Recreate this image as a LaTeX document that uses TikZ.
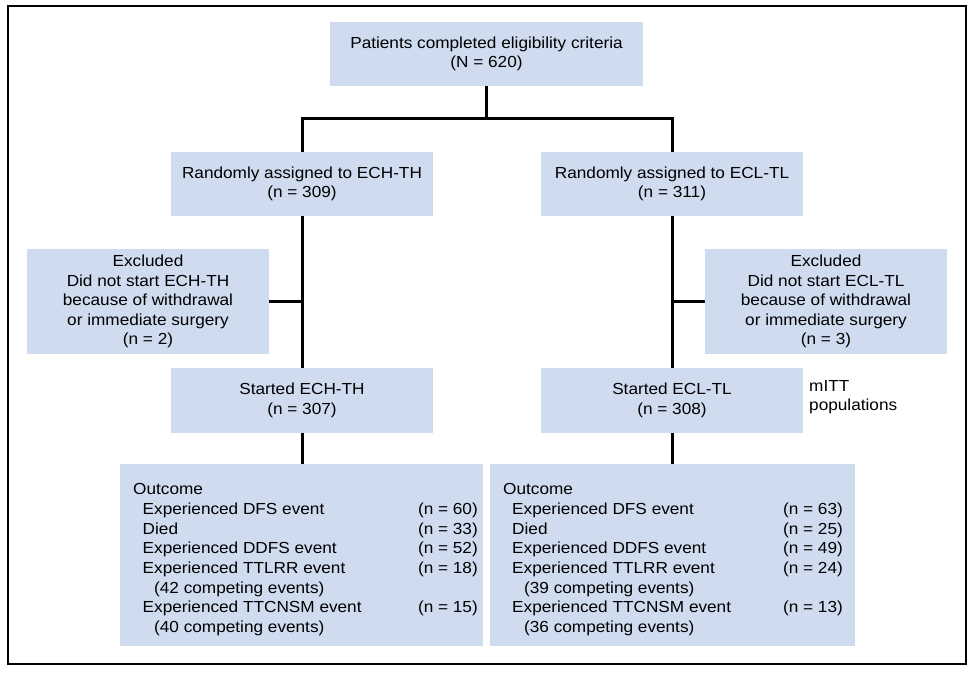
\documentclass[tikz,border=0pt]{standalone}
\usepackage{fontspec}
\setmainfont[FakeStretch=1.075]{Liberation Sans}
\definecolor{boxfill}{RGB}{207,220,239}
\begin{document}
\begin{tikzpicture}[x=1pt,y=-1pt,
  box/.style={fill=boxfill, draw=none, inner sep=0pt, align=center,
    font=\fontsize{16}{19.6}\selectfont},
  conn/.style={line width=3pt, line join=miter},
  txt/.style={inner sep=0pt, font=\fontsize{16}{19.6}\selectfont},
]
\useasboundingbox (0,0) rectangle (976,672);
\draw[line width=1.4pt] (8,6) rectangle (966,664);

\node[box, minimum width=313pt, minimum height=64pt] (top) at (486.5,54)
  {Patients completed eligibility criteria\\(N = 620)};
\node[box, minimum width=262pt, minimum height=64pt] (r1) at (302,184)
  {Randomly assigned to ECH-TH\\(n = 309)};
\node[box, minimum width=262pt, minimum height=64pt] (r2) at (672,184)
  {Randomly assigned to ECL-TL\\(n = 311)};
\node[box, minimum width=242pt, minimum height=105pt] (ex1) at (148,301.5)
  {Excluded\\Did not start ECH-TH\\because of withdrawal\\or immediate surgery\\(n = 2)};
\node[box, minimum width=242pt, minimum height=105pt] (ex2) at (826,301.5)
  {Excluded\\Did not start ECL-TL\\because of withdrawal\\or immediate surgery\\(n = 3)};
\node[box, minimum width=262pt, minimum height=65pt] (s1) at (302,400.5)
  {Started ECH-TH\\(n = 307)};
\node[box, minimum width=262pt, minimum height=65pt] (s2) at (672,400.5)
  {Started ECL-TL\\(n = 308)};
\node[txt, anchor=north west, align=left] (mitt) at (809,380)
  {mITT\\populations};
\node[box, minimum width=363pt, minimum height=182pt] (o1) at (301.5,555) {};
\node[box, minimum width=365pt, minimum height=182pt] (o2) at (672.5,555) {};

% outcome texts, left
\node[txt, anchor=base west] (l0) at (133,494.8) {Outcome};
\node[txt, anchor=base west] (l1) at (142.5,514.4) {Experienced DFS event};
\node[txt, anchor=base west] (l2) at (142.5,534.1) {Died};
\node[txt, anchor=base west] (l3) at (142.5,553.7) {Experienced DDFS event};
\node[txt, anchor=base west] (l4) at (142.5,573.4) {Experienced TTLRR event};
\node[txt, anchor=base west] (l5) at (154,593.0) {(42 competing events)};
\node[txt, anchor=base west] (l6) at (142.5,612.7) {Experienced TTCNSM event};
\node[txt, anchor=base west] (l7) at (154,632.3) {(40 competing events)};
\node[txt, anchor=base east] (ln1) at (478,514.4) {(n = 60)};
\node[txt, anchor=base east] (ln2) at (478,534.1) {(n = 33)};
\node[txt, anchor=base east] (ln3) at (478,553.7) {(n = 52)};
\node[txt, anchor=base east] (ln4) at (478,573.4) {(n = 18)};
\node[txt, anchor=base east] (ln6) at (478,612.7) {(n = 15)};
% outcome texts, right
\node[txt, anchor=base west] (r0) at (503,494.8) {Outcome};
\node[txt, anchor=base west] (rr1) at (512,514.4) {Experienced DFS event};
\node[txt, anchor=base west] (rr2) at (512,534.1) {Died};
\node[txt, anchor=base west] (rr3) at (512,553.7) {Experienced DDFS event};
\node[txt, anchor=base west] (rr4) at (512,573.4) {Experienced TTLRR event};
\node[txt, anchor=base west] (rr5) at (524,593.0) {(39 competing events)};
\node[txt, anchor=base west] (rr6) at (512,612.7) {Experienced TTCNSM event};
\node[txt, anchor=base west] (rr7) at (524,632.3) {(36 competing events)};
\node[txt, anchor=base east] (rn1) at (843,514.4) {(n = 63)};
\node[txt, anchor=base east] (rn2) at (843,534.1) {(n = 25)};
\node[txt, anchor=base east] (rn3) at (843,553.7) {(n = 49)};
\node[txt, anchor=base east] (rn4) at (843,573.4) {(n = 24)};
\node[txt, anchor=base east] (rn6) at (843,612.7) {(n = 13)};

% connectors
\coordinate (split) at (486.5,118);
\draw[conn] (top.south) -- (split);
\draw[conn] (r1.north) |- (split) -| (r2.north);
\draw[conn] (r1.south) -- (s1.north);
\draw[conn] (r2.south) -- (s2.north);
\draw[conn] (ex1.east) -- (ex1.east -| r1.south);
\draw[conn] (ex2.west) -- (ex2.west -| r2.south);
\draw[conn] (s1.south) -- (s1.south |- o1.north);
\draw[conn] (s2.south) -- (s2.south |- o2.north);
\end{tikzpicture}
\end{document}
